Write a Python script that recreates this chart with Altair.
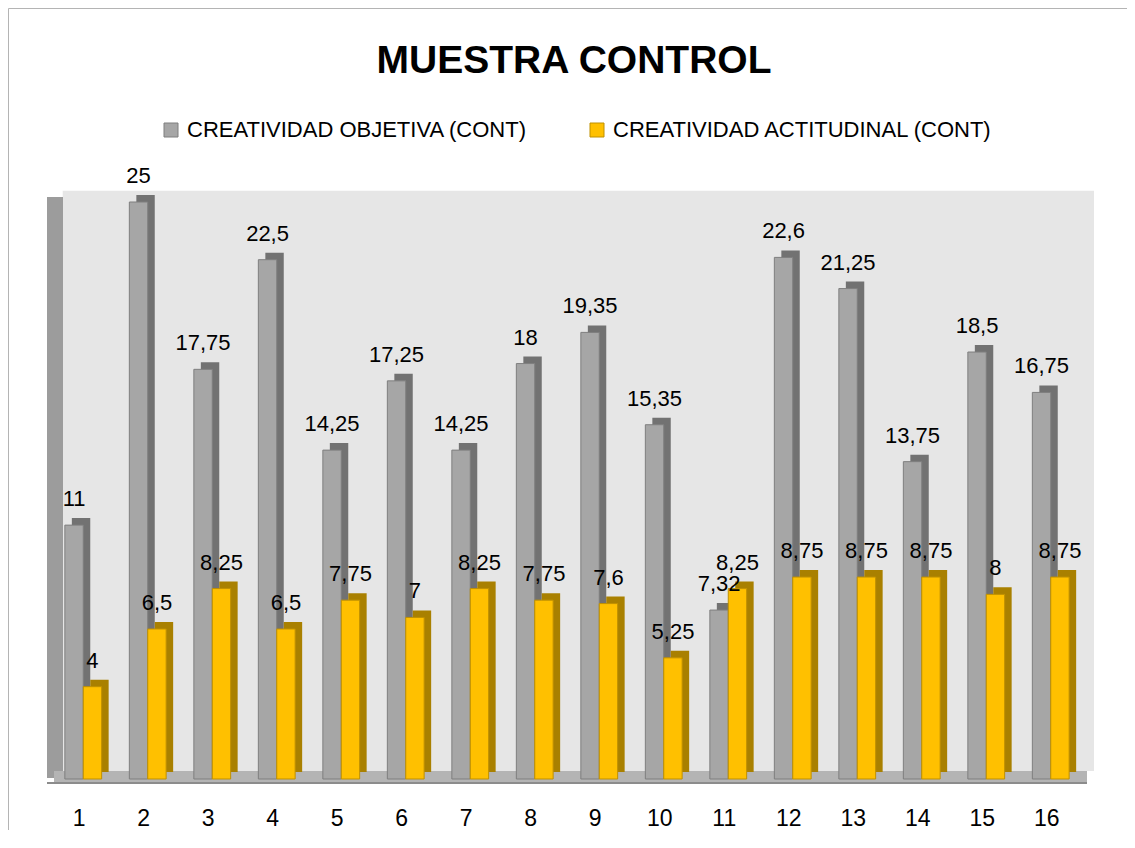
import altair as alt
import pandas as pd

# ---- data ----
categorias = [str(i) for i in range(1, 17)]
objetiva = [11, 25, 17.75, 22.5, 14.25, 17.25, 14.25, 18, 19.35, 15.35, 7.32, 22.6, 21.25, 13.75, 18.5, 16.75]
actitudinal = [4, 6.5, 8.25, 6.5, 7.75, 7, 8.25, 7.75, 7.6, 5.25, 8.25, 8.75, 8.75, 8.75, 8, 8.75]
series = ["CREATIVIDAD OBJETIVA (CONT)", "CREATIVIDAD ACTITUDINAL (CONT)"]
titulo = "MUESTRA CONTROL"


def fmt(v):
    return f"{v:g}".replace(".", ",")


rows = []
for c, o, a in zip(categorias, objetiva, actitudinal):
    rows.append({"cat": c, "serie": series[0], "valor": o, "etiqueta": fmt(o)})
    rows.append({"cat": c, "serie": series[1], "valor": a, "etiqueta": fmt(a)})
df = pd.DataFrame(rows)
one = pd.DataFrame({"k": [0]})

FONT = "Liberation Sans"
W, H = 1032, 577
BW = 18.4
DEPTH = 7
fills = ["#A6A6A6", "#FFC000"]
strokes = ["#7F7F7F", "#BF9000"]
sides = ["#727272", "#A98000"]

x_enc = alt.X(
    "cat:N",
    sort=categorias,
    scale=alt.Scale(paddingInner=0.43, paddingOuter=0.215),
    axis=alt.Axis(
        title=None, domain=False, ticks=False, grid=False, labelAngle=0,
        labelFont=FONT, labelFontSize=23, labelColor="#000000",
        labelPadding=28, labelOffset=-4,
    ),
)
y_enc = alt.Y("valor:Q", scale=alt.Scale(domain=[0, 25], nice=False), axis=None)

# ---- decoration (frame, walls, floor) ----
deco = alt.Chart(one)
frame_v = deco.mark_rule(color="#B4B4B4", strokeWidth=1).encode(
    x=alt.value(-42.5), y=alt.value(-193.5), y2=alt.value(700))
frame_h = deco.mark_rule(color="#B4B4B4", strokeWidth=1).encode(
    x=alt.value(-42.5), x2=alt.value(1100), y=alt.value(-193.5))
wall = deco.mark_rect(color="#E6E6E6").encode(
    x=alt.value(11.7), x2=alt.value(1043), y=alt.value(-11.3), y2=alt.value(569))
side_wall = deco.mark_rect(color="#9C9C9C").encode(
    x=alt.value(-4), x2=alt.value(12), y=alt.value(-5), y2=alt.value(576))
floor = deco.mark_rect(color="#B4B4B4").encode(
    x=alt.value(3), x2=alt.value(1036), y=alt.value(569), y2=alt.value(582))
floor_edge = deco.mark_rule(color="#8C8C8C", strokeWidth=2).encode(
    x=alt.value(-4), x2=alt.value(1036), y=alt.value(581))
title = deco.mark_text(
    text=titulo, font=FONT, fontSize=39, fontWeight="bold", color="#000000",
    align="center", baseline="alphabetic",
).encode(x=alt.value(523), y=alt.value(-129))

base = alt.Chart(df)
shadow_layers, front_layers, label_layers = [], [], []
for i, s in enumerate(series):
    off = -BW / 2 if i == 0 else BW / 2
    sub = base.transform_filter(alt.datum.serie == s)
    shadow_layers.append(
        sub.mark_bar(width=BW, xOffset=off + DEPTH, yOffset=-DEPTH, y2Offset=-DEPTH,
                     color=sides[i]).encode(x=x_enc, y=y_enc)
    )
    front_layers.append(
        sub.mark_bar(width=BW, xOffset=off, strokeWidth=1).encode(
            x=x_enc,
            y=y_enc,
            color=alt.Color(
                "serie:N",
                scale=alt.Scale(domain=series, range=fills),
                legend=alt.Legend(
                    orient="none", legendX=109, legendY=-83, direction="horizontal",
                    title=None, symbolType="square", symbolSize=196,
                    symbolStrokeWidth=1, labelFont=FONT, labelFontSize=22,
                    labelColor="#000000", labelLimit=600, columnPadding=58,
                    labelOffset=5,
                ),
            ),
            stroke=alt.Stroke("serie:N", scale=alt.Scale(domain=series, range=strokes)),
        )
    )
    label_layers.append(
        sub.mark_text(xOffset=off, dy=-19, font=FONT, fontSize=22, color="#000000",
                      align="center", baseline="alphabetic").encode(
            x=x_enc, y=y_enc, text="etiqueta:N")
    )

chart = alt.layer(
    frame_v, frame_h, wall, side_wall, floor, floor_edge, title,
    *shadow_layers, *front_layers, *label_layers,
).properties(
    width=W, height=H,
    padding={"left": 43, "top": 194, "right": 44, "bottom": 51},
    autosize=alt.AutoSizeParams(type="none"),
    background="white",
).configure_view(stroke=None)

chart.save("out.html", embed_options={"renderer": "svg", "actions": False})
